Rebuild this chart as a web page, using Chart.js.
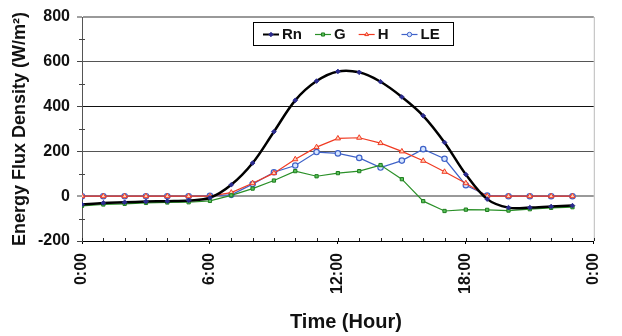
<!DOCTYPE html>
<html>
<head>
<meta charset="utf-8">
<script src="https://cdn.jsdelivr.net/npm/chart.js@4"></script>
<style>
  body { margin: 0; background: #fff; }
  canvas { display: block; }
</style>
</head>
<body>
<canvas id="fluxChart" width="622" height="336"></canvas>
<script>
// Hourly surface energy balance components (W/m2)
const hours = [0, 1, 2, 3, 4, 5, 6, 7, 8, 9, 10, 11, 12, 13, 14, 15, 16, 17, 18, 19, 20, 21, 22, 23];
const rn = [-37, -30, -27, -24, -22, -19, -7, 51, 148, 288, 428, 514, 557, 553, 511, 443, 359, 240, 97, -13, -51, -51, -46, -42];
const g = [-43, -37, -34, -30, -28, -27, -21, 4, 34, 70, 112, 89, 103, 112, 139, 76, -22, -66, -60, -61, -64, -58, -52, -49];
const h = [0, 0, 0, 0, 0, 0, 0, 16, 58, 103, 165, 219, 258, 261, 237, 200, 158, 109, 58, 0, 0, 0, 0, 0];
const le = [0, 0, 0, 0, 0, 0, 2, 6, 54, 107, 137, 197, 191, 171, 128, 159, 210, 167, 49, 3, 0, 0, 0, 0];

const seriesNames = ["Rn", "G", "H", "LE"];
const hourTicks = [0, 6, 12, 18, 24];
const fluxTicks = [-200, 0, 200, 400, 600, 800];
const xTitle = "Time (Hour)";

const FONT = "'Liberation Sans', Arial, Helvetica, sans-serif";

function toPoints(values) {
  return values.map((v, i) => ({ x: hours[i], y: v }));
}

// small tick marks, right border, x title and the boxed legend inside the plot
const extrasPlugin = {
  id: "extras",
  afterDatasetsDraw(chart) {
    const ctx = chart.ctx;
    const area = chart.chartArea;
    const xs = chart.scales.x;
    const ys = chart.scales.y;
    ctx.save();
    ctx.strokeStyle = "#bbb";
    ctx.lineWidth = 1;
    ctx.beginPath();
    ctx.moveTo(area.right + 0.5, area.top);
    ctx.lineTo(area.right + 0.5, area.bottom);
    ctx.stroke();

    // hourly ticks pointing into the plot
    ctx.strokeStyle = "#222";
    ctx.beginPath();
    for (let t = 0; t <= 24; t++) {
      const px = Math.round(xs.getPixelForValue(t)) + 0.5;
      ctx.moveTo(px, area.bottom);
      ctx.lineTo(px, area.bottom - 3);
    }
    ctx.stroke();

    // minor ticks on the flux axis
    ctx.strokeStyle = "#444";
    ctx.beginPath();
    for (let v = -100; v < 800; v += 200) {
      const py = Math.round(ys.getPixelForValue(v)) + 0.5;
      ctx.moveTo(area.left - 3, py);
      ctx.lineTo(area.left + 3, py);
    }
    ctx.stroke();

    // x axis title
    ctx.fillStyle = "#111";
    ctx.font = "bold 20px " + FONT;
    ctx.textAlign = "center";
    ctx.textBaseline = "middle";
    ctx.fillText(xTitle, (area.left + area.right) / 2 + 8, chart.height - 14);

    // legend
    const bx = 253, by = 22, bw = 200, bh = 23;
    ctx.fillStyle = "#fff";
    ctx.fillRect(bx, by, bw, bh);
    ctx.strokeStyle = "#000";
    ctx.lineWidth = 1;
    ctx.strokeRect(bx + 0.5, by + 0.5, bw, bh);
    ctx.font = "bold 15px " + FONT;
    ctx.textAlign = "left";
    ctx.textBaseline = "middle";
    const cy = by + bh / 2 + 1;
    let x = bx + 10;
    chart.data.datasets.forEach((ds) => {
      ctx.strokeStyle = ds.borderColor;
      ctx.lineWidth = Math.min(ds.borderWidth, 2);
      ctx.beginPath();
      ctx.moveTo(x, cy);
      ctx.lineTo(x + 16, cy);
      ctx.stroke();
      ctx.fillStyle = ds.pointBackgroundColor;
      ctx.strokeStyle = ds.pointBorderColor;
      ctx.lineWidth = 1;
      Chart.helpers.drawPoint(ctx, {
        pointStyle: ds.pointStyle,
        radius: 2.2,
        rotation: 0,
        borderWidth: 1
      }, x + 8, cy);
      x += 19;
      ctx.fillStyle = "#111";
      ctx.fillText(ds.label, x, cy);
      x += ctx.measureText(ds.label).width + 13;
    });
    ctx.restore();
  }
};

function gridColor(ctx) {
  const v = ctx.tick && ctx.tick.value;
  if (v === 400) return "#111";
  if (v === 200 || v === 600) return "#555";
  if (v === 0 || v === 800) return "#999";
  return "rgba(0,0,0,0)";
}

function gridWidth(ctx) {
  const v = ctx.tick && ctx.tick.value;
  return v === 0 || v === 800 ? 2 : 1;
}

new Chart(document.getElementById("fluxChart").getContext("2d"), {
  type: "line",
  data: {
    datasets: [
      {
        label: seriesNames[0],
        data: toPoints(rn),
        borderColor: "#000",
        borderWidth: 2.5,
        tension: 0.35,
        pointStyle: "rectRot",
        pointRadius: 2.3,
        pointBackgroundColor: "#2b2b8e",
        pointBorderColor: "#2b2b8e",
        pointBorderWidth: 1
      },
      {
        label: seriesNames[1],
        data: toPoints(g),
        borderColor: "#2a9028",
        borderWidth: 1.2,
        tension: 0,
        pointStyle: "rect",
        pointRadius: 2.3,
        pointBackgroundColor: "#5cc05c",
        pointBorderColor: "#1d7d1d",
        pointBorderWidth: 1
      },
      {
        label: seriesNames[2],
        data: toPoints(h),
        borderColor: "#f03a22",
        borderWidth: 1.2,
        tension: 0,
        pointStyle: "triangle",
        pointRadius: 3,
        pointBackgroundColor: "#ffd2b8",
        pointBorderColor: "#f03a22",
        pointBorderWidth: 1
      },
      {
        label: seriesNames[3],
        data: toPoints(le),
        borderColor: "#3f62c8",
        borderWidth: 1.2,
        tension: 0,
        pointStyle: "circle",
        pointRadius: 2.7,
        pointBackgroundColor: "#d6e6ff",
        pointBorderColor: "#3f62c8",
        pointBorderWidth: 1.2
      }
    ]
  },
  options: {
    responsive: false,
    devicePixelRatio: 1,
    animation: false,
    layout: { padding: { left: 0, right: 8, top: 17, bottom: 0 } },
    plugins: {
      legend: { display: false },
      tooltip: { enabled: false }
    },
    scales: {
      x: {
        type: "linear",
        min: 0,
        max: 24,
        afterBuildTicks(scale) {
          scale.ticks = hourTicks.map((v) => ({ value: v }));
        },
        afterFit(scale) { scale.height = 95; },
        border: { display: true, color: "#000", width: 1 },
        grid: {
          drawOnChartArea: false,
          drawTicks: true,
          tickLength: 3,
          color: "#000"
        },
        ticks: {
          minRotation: 90,
          maxRotation: 90,
          padding: 9,
          color: "#111",
          font: { family: FONT, size: 16, weight: "bold" },
          callback: (v) => (v % 24) + ":00"
        },
        title: { display: false }
      },
      y: {
        min: -200,
        max: 800,
        afterBuildTicks(scale) {
          scale.ticks = fluxTicks.map((v) => ({ value: v }));
        },
        afterFit(scale) { scale.width = 82; },
        border: { display: true, color: "#555", width: 1 },
        grid: {
          color: gridColor,
          lineWidth: gridWidth,
          drawTicks: true,
          tickLength: 5,
          tickColor: "#444",
          tickWidth: 1
        },
        ticks: {
          padding: 7,
          color: "#111",
          font: { family: FONT, size: 16, weight: "bold" }
        },
        title: {
          display: true,
          text: "Energy Flux Density (W/m²)",
          color: "#111",
          font: { family: FONT, size: 18, weight: "bold" },
          padding: { top: 9, bottom: 0 }
        }
      }
    }
  },
  plugins: [extrasPlugin]
});
</script>
</body>
</html>
